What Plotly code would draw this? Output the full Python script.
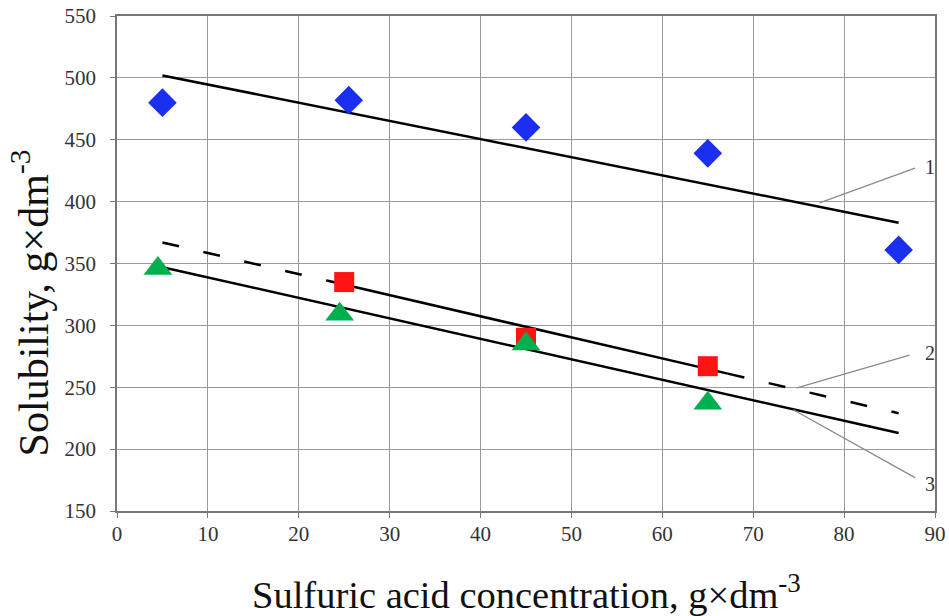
import plotly.graph_objects as go

# Experimental data
x_blue = [5, 25.5, 45, 65, 86]
y_blue = [480, 482, 460, 439, 361]
x_red = [25, 45, 65]
y_red = [335, 290, 267]
x_green = [4.5, 24.5, 45, 65]
y_green = [346, 309, 285, 237]

# Fitted lines (endpoints)
line1_x = [5, 86]
line1_y = [502, 383]
line2_dash_x = [5, 23.2]
line2_dash_y = [367, 336]
line2_solid_x = [23.2, 67.2]
line2_solid_y = [336, 261]
line2_dash2_x = [67.2, 86]
line2_dash2_y = [261, 229]
line3_x = [5, 86]
line3_y = [347, 213]

# Leader lines and labels
labels = ["1", "2", "3"]
leader_x0 = [77.3, 74.8, 74.4]
leader_y0 = [399, 249.5, 231.8]
leader_x1 = [87.8, 87.2, 87.8]
leader_y1 = [427, 276, 177]
label_x = [88.7, 88.7, 88.7]
label_y = [428, 278, 172]

x_title = "Sulfuric acid concentration, g×dm<sup>-3</sup>"
y_title = "Solubility, g×dm<sup>-3</sup>"

fig = go.Figure()

fig.add_trace(go.Scatter(x=line1_x, y=line1_y, mode="lines",
                         line=dict(color="black", width=2.5), showlegend=False))
fig.add_trace(go.Scatter(x=line2_dash_x, y=line2_dash_y, mode="lines",
                         line=dict(color="black", width=2.5, dash="17px,25px"), showlegend=False))
fig.add_trace(go.Scatter(x=line2_solid_x, y=line2_solid_y, mode="lines",
                         line=dict(color="black", width=2.5), showlegend=False))
fig.add_trace(go.Scatter(x=line2_dash2_x, y=line2_dash2_y, mode="lines",
                         line=dict(color="black", width=2.5, dash="17px,25px"), showlegend=False))
fig.add_trace(go.Scatter(x=line3_x, y=line3_y, mode="lines",
                         line=dict(color="black", width=2.5), showlegend=False))

for i in range(3):
    fig.add_trace(go.Scatter(x=[leader_x0[i], leader_x1[i]], y=[leader_y0[i], leader_y1[i]],
                             mode="lines", line=dict(color="#8a8a8a", width=1.3), showlegend=False))
    fig.add_annotation(x=label_x[i], y=label_y[i], text=labels[i], showarrow=False,
                       xanchor="left", yanchor="middle",
                       font=dict(family="Liberation Serif", size=20, color="#333333"))

fig.add_trace(go.Scatter(x=x_blue, y=y_blue, mode="markers",
                         marker=dict(symbol="diamond", size=22, color="#1a2ff0"), showlegend=False))
fig.add_trace(go.Scatter(x=x_red, y=y_red, mode="markers",
                         marker=dict(symbol="square", size=20, color="#ff1414"), showlegend=False))
fig.add_trace(go.Scatter(x=x_green, y=y_green, mode="markers",
                         marker=dict(symbol="triangle-up", size=25, color="#00b04f"), showlegend=False))

# Axis titles as annotations (fixed positions, no automatic margin growth)
fig.add_annotation(xref="paper", yref="paper", x=-0.106, y=0.42, text=y_title,
                   textangle=-90, showarrow=False, xanchor="center", yanchor="middle",
                   font=dict(size=42, family="Liberation Serif", color="#111111"))
fig.add_annotation(xref="paper", yref="paper", x=0.5, y=-0.163, text=x_title,
                   showarrow=False, xanchor="center", yanchor="middle",
                   font=dict(size=38.5, family="Liberation Serif", color="#111111"))

fig.update_layout(
    width=949, height=616,
    margin=dict(l=117, r=14, t=16, b=105, autoexpand=False),
    plot_bgcolor="white", paper_bgcolor="white",
    font=dict(family="Liberation Serif", color="#333333"),
)
fig.update_xaxes(range=[0, 90], tickmode="linear", tick0=0, dtick=10,
                 automargin=False,
                 showgrid=True, gridcolor="#9a9a9a", gridwidth=1.3,
                 showline=True, linecolor="#777777", linewidth=1.5, mirror=True,
                 ticks="outside", ticklen=5, tickcolor="#777777",
                 ticklabelstandoff=-2,
                 tickfont=dict(size=21, family="Liberation Serif", color="#333333"),
                 zeroline=False)
fig.update_yaxes(range=[150, 550], tickmode="linear", tick0=150, dtick=50,
                 automargin=False,
                 showgrid=True, gridcolor="#9a9a9a", gridwidth=1.3,
                 showline=True, linecolor="#777777", linewidth=1.5, mirror=True,
                 ticks="outside", ticklen=5, tickcolor="#777777",
                 ticklabelstandoff=10,
                 tickfont=dict(size=21, family="Liberation Serif", color="#333333"),
                 zeroline=False)

fig.write_html("out.html")
